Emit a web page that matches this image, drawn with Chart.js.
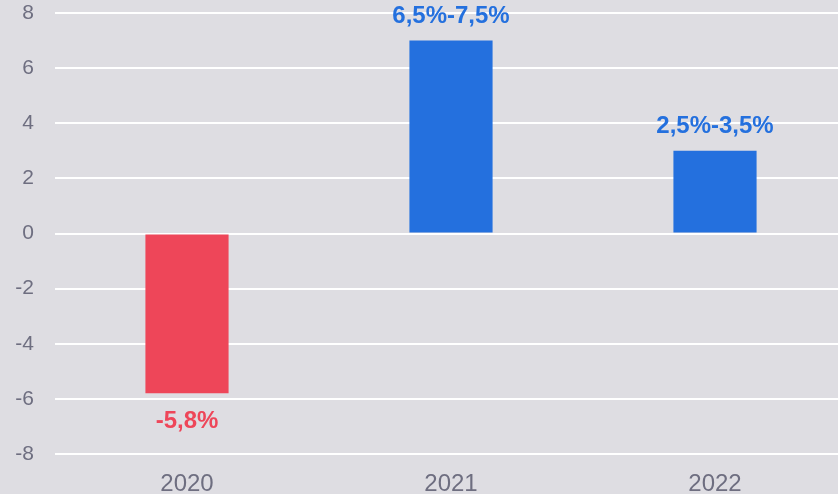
<!DOCTYPE html>
<html>
<head>
<meta charset="utf-8">
<script src="https://cdn.jsdelivr.net/npm/chart.js@4"></script>
<style>
  html, body { margin: 0; padding: 0; background: #dedde2; overflow: hidden; }
  #wrap { width: 847px; height: 494px; }
</style>
</head>
<body>
<div id="wrap"><canvas id="chart" width="847" height="494"></canvas></div>
<script>
        let years = ['2020', '2021', '2022'];
        let growth = [-5.8, 7, 3];
        let growth_labels = ['-5,8%', '6,5%-7,5%', '2,5%-3,5%'];
        let bar_colors = ['#ee4659', '#2470de', '#2470de'];
        let y_ticks = [-8, -6, -4, -2, 0, 2, 4, 6, 8];

        // value text above (or below) each bar
        let bar_labels = {
            id: 'bar_labels',
            afterDatasetsDraw(chart) {
                let ctx = chart.ctx;
                let meta = chart.getDatasetMeta(0);
                ctx.save();
                ctx.font = 'bold 24px "Liberation Sans", Arial, sans-serif';
                ctx.textAlign = 'center';
                ctx.textBaseline = 'middle';
                meta.data.forEach((bar, i) => {
                    let v = growth[i];
                    ctx.fillStyle = bar_colors[i];
                    let y = v >= 0 ? bar.y - 24 : bar.y + 28;
                    ctx.fillText(growth_labels[i], bar.x, y);
                });
                ctx.restore();
            }
        };

        let chart = new Chart(document.getElementById('chart'), {
            type: 'bar',
            data: {
                labels: years,
                datasets: [{
                    data: growth,
                    backgroundColor: bar_colors,
                    barPercentage: 0.315,
                    categoryPercentage: 1
                }]
            },
            options: {
                responsive: false,
                animation: false,
                layout: { padding: { top: 13, left: 0, right: 0, bottom: 0 } },
                plugins: { legend: { display: false }, tooltip: { enabled: false } },
                scales: {
                    x: {
                        grid: { display: false },
                        border: { display: false },
                        afterFit: (axis) => { axis.height = 40; },
                        ticks: { color: '#6e6e80', font: { size: 24, family: '"Liberation Sans", Arial, sans-serif' }, padding: 8 }
                    },
                    y: {
                        min: -8,
                        max: 8,
                        afterBuildTicks: (axis) => { axis.ticks = y_ticks.map(v => ({ value: v })); },
                        afterFit: (axis) => { axis.width = 55; axis.paddingTop = 0; axis.paddingBottom = 0; },
                        grid: { color: '#ffffff', lineWidth: 2, drawTicks: false },
                        border: { display: false },
                        ticks: { color: '#6e6e80', font: { size: 21, family: '"Liberation Sans", Arial, sans-serif' }, padding: 21 }
                    }
                }
            },
            plugins: [bar_labels]
        });
</script>
</body>
</html>
